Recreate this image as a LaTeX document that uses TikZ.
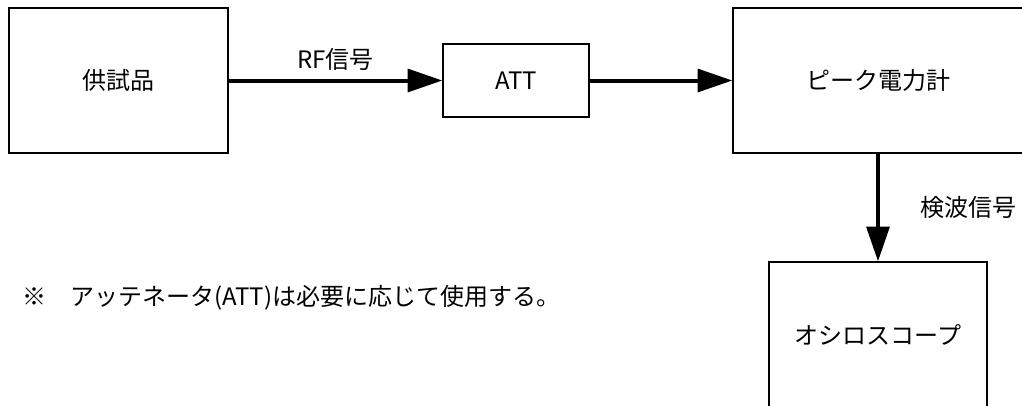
\documentclass[tikz,border=0pt]{standalone}
\usepackage{fontspec}
\setmainfont{Noto Sans CJK JP}
\usetikzlibrary{arrows.meta,positioning}

\begin{document}
\begin{tikzpicture}[x=0.75pt,y=0.75pt,
    box/.style={draw, line width=0.9pt, inner sep=0pt, font=\fontsize{18}{22}\selectfont},
    sig/.style={line width=3pt, -{Triangle[length=26pt,width=17pt]}},
    lbl/.style={font=\fontsize{18}{22}\selectfont, inner sep=0pt}]
    \clip (0,0) rectangle (1022,405);

    % Blocks
    \node[box, minimum width=219*0.75pt, minimum height=145*0.75pt] (dut) at (118.5,324.5) {供試品};
    \node[box, minimum width=146*0.75pt, minimum height=73*0.75pt] (att) at (516,324.5) {ATT};
    \node[box, minimum width=290*0.75pt, minimum height=145*0.75pt] (meter) at (878,324.5) {ピーク電力計};
    \node[box, minimum width=218*0.75pt, minimum height=145*0.75pt] (scope) at (878,70.5) {オシロスコープ};

    % Signal paths
    \draw[sig] (dut) -- node[lbl, above=6pt] {RF信号} (att);
    \draw[sig] (att) -- (meter);
    \draw[sig] (meter) -- node[lbl, right=30pt] {検波信号} (scope);

    % Note
    \node[lbl, anchor=west] (note) at (22,107) {※　アッテネータ(ATT)は必要に応じて使用する。};
\end{tikzpicture}
\end{document}
